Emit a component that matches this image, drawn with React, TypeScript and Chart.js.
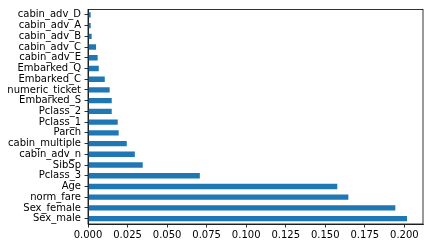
import React, { useEffect, useRef } from "react";
import { Chart, registerables } from "chart.js";

Chart.register(...registerables);

const features = [
  "cabin_adv_D",
  "cabin_adv_A",
  "cabin_adv_B",
  "cabin_adv_C",
  "cabin_adv_E",
  "Embarked_Q",
  "Embarked_C",
  "numeric_ticket",
  "Embarked_S",
  "Pclass_2",
  "Pclass_1",
  "Parch",
  "cabin_multiple",
  "cabin_adv_n",
  "SibSp",
  "Pclass_3",
  "Age",
  "norm_fare",
  "Sex_female",
  "Sex_male",
];

const importances = [
  0.0017, 0.0017, 0.0023, 0.0051, 0.0061, 0.0068, 0.0106, 0.0137, 0.015, 0.015,
  0.0188, 0.0194, 0.0245, 0.0296, 0.0346, 0.0707, 0.1576, 0.1646, 0.1943, 0.2017,
];

const xTickValues = [0, 0.025, 0.05, 0.075, 0.1, 0.125, 0.15, 0.175, 0.2];

const frame = {
  id: "frame",
  afterDraw(chart: any) {
    const { ctx, chartArea } = chart;
    ctx.save();
    ctx.strokeStyle = "#000";
    ctx.lineWidth = 0.8;
    ctx.strokeRect(chartArea.left, chartArea.top, chartArea.right - chartArea.left, chartArea.bottom - chartArea.top);
    ctx.restore();
  },
};

export default function App() {
  const ref = useRef<HTMLCanvasElement>(null);
  useEffect(() => {
    if (!ref.current) return;
    const xMax = Math.max(...importances) * 1.05;
    const chart = new Chart(ref.current, {
      type: "bar",
      data: {
        labels: features,
        datasets: [
          {
            data: importances,
            backgroundColor: "#1f77b4",
            borderWidth: 0,
            barPercentage: 0.5,
            categoryPercentage: 1,
          },
        ],
      },
      options: {
        indexAxis: "y",
        animation: false,
        responsive: false,
        devicePixelRatio: 1,
        layout: { padding: { top: 6, right: 6, left: 0, bottom: 0 } },
        plugins: { legend: { display: false }, tooltip: { enabled: false } },
        scales: {
          x: {
            type: "linear",
            min: 0,
            max: xMax,
            afterBuildTicks: (s: any) => {
              s.ticks = xTickValues.map((v) => ({ value: v }));
            },
            afterFit: (s: any) => {
              s.height = 24;
            },
            grid: { display: true, drawOnChartArea: false, drawTicks: true, tickLength: 3.5, color: "#000", lineWidth: 0.8 },
            border: { display: true, color: "#000", width: 0.8 },
            ticks: {
              color: "#000",
              padding: 2,
              maxRotation: 0,
              autoSkip: false,
              font: { family: "DejaVu Sans", size: 10 },
              callback: (v: any) => Number(v).toFixed(3),
            },
          },
          y: {
            type: "category",
            offset: true,
            afterFit: (s: any) => {
              s.width = 88;
            },
            grid: { display: true, offset: false, drawOnChartArea: false, drawTicks: true, tickLength: 3.5, color: "#000", lineWidth: 0.8 },
            border: { display: true, color: "#000", width: 0.8 },
            ticks: {
              color: "#000",
              padding: 3.5,
              autoSkip: false,
              font: { family: "DejaVu Sans", size: 10 },
            },
          },
        },
      },
      plugins: [frame],
    });
    return () => chart.destroy();
  }, []);
  return (
    <div style={{ position: "absolute", left: 0, top: 0, width: 429, height: 248, background: "#fff" }}>
      <canvas ref={ref} width={429} height={248} style={{ width: 429, height: 248 }} />
    </div>
  );
}
